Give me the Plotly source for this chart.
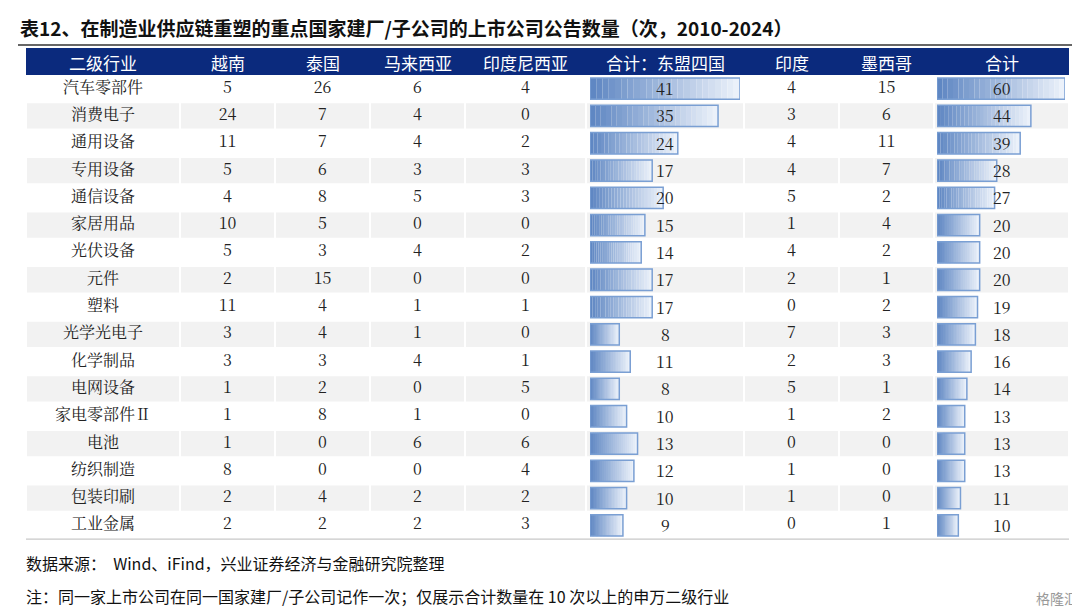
import plotly.graph_objects as go

industries = ["汽车零部件","消费电子","通用设备","专用设备","通信设备","家居用品","光伏设备","元件","塑料",
              "光学光电子","化学制品","电网设备","家电零部件Ⅱ","电池","纺织制造","包装印刷","工业金属"]
vietnam   = [5,24,11,5,4,10,5,2,11,3,3,1,1,1,8,2,2]
thailand  = [26,7,7,6,8,5,3,15,4,4,3,2,8,0,0,4,2]
malaysia  = [6,4,4,3,5,0,4,0,1,1,4,0,1,6,0,2,2]
indonesia = [4,0,2,3,3,0,2,0,1,0,1,5,0,6,4,2,3]
asean     = [41,35,24,17,20,15,14,17,17,8,11,8,10,13,12,10,9]
india     = [4,3,4,4,5,1,4,2,0,7,2,5,1,0,1,1,0]
mexico    = [15,6,11,7,2,4,2,1,2,3,3,1,2,0,0,0,1]
total     = [60,44,39,28,27,20,20,20,19,18,16,14,13,13,13,11,10]
headers = ["二级行业","越南","泰国","马来西亚","印度尼西亚","合计：东盟四国","印度","墨西哥","合计"]

W, H = 1080, 609
col_edges = [18,172,267,362,457,578,736,831,926,1061]
row_top0, row_h = 67, 27.3
n = len(industries)
def rc(i): return row_top0 + row_h*(i+0.5)
FONT = "Noto Serif CJK SC, Liberation Serif, Noto Sans CJK SC"

fig = go.Figure()
shapes = []
shapes.append(dict(type="rect", xref="x", yref="y", x0=col_edges[0], x1=col_edges[-1], y0=40, y1=row_top0,
                   fillcolor="#0b2a7d", line_width=0, layer="below"))
for i in range(n):
    fill = "#ffffff" if i % 2 == 0 else "#f2f2f2"
    for c in range(9):
        shapes.append(dict(type="rect", xref="x", yref="y", x0=col_edges[c]+1, x1=col_edges[c+1]-1,
                           y0=row_top0+row_h*i+1, y1=row_top0+row_h*(i+1)-1, fillcolor=fill, line_width=0, layer="below"))
shapes.append(dict(type="line", xref="x", yref="y", x0=10, x1=1070, y0=37, y1=37, line=dict(color="#333", width=1.5)))
shapes.append(dict(type="line", xref="x", yref="y", x0=col_edges[0], x1=col_edges[-1], y0=row_top0+row_h*n,
                   y1=row_top0+row_h*n, line=dict(color="#bbbbbb", width=1)))

N = 24
def lerp(a, b, t): return tuple(int(a[k]+(b[k]-a[k])*t) for k in range(3))
c0, c1 = (95,135,195), (235,241,250)
for vals, xa in [(asean, "x2"), (total, "x3")]:
    for s in range(N):
        col = "rgb(%d,%d,%d)" % lerp(c0, c1, s/(N-1))
        fig.add_trace(go.Bar(y=list(range(n)), x=[v/N for v in vals], base=[v*s/N for v in vals],
                             orientation="h", xaxis=xa, yaxis="y2", marker=dict(color=col, line_width=0),
                             width=0.78, showlegend=False, hoverinfo="skip"))
    fig.add_trace(go.Bar(y=list(range(n)), x=vals, orientation="h", xaxis=xa, yaxis="y2",
                         marker=dict(color="rgba(0,0,0,0)", line=dict(color="#7a9fd3", width=1.5)),
                         width=0.78, showlegend=False, hoverinfo="skip"))

cols = [industries, vietnam, thailand, malaysia, indonesia, asean, india, mexico, total]
annotations = []
for c, vals in enumerate(cols):
    xc = (col_edges[c]+col_edges[c+1])/2
    if c in (5, 8):
        for i, v in enumerate(vals):
            annotations.append(dict(x=xc, y=rc(i), xref="x", yref="y", text=str(v), showarrow=False,
                                    font=dict(size=16, color="#222", family=FONT)))
    else:
        fig.add_trace(go.Scatter(x=[xc]*n, y=[rc(i) for i in range(n)], text=[str(v) for v in vals], mode="text",
                                 textfont=dict(size=16, color="#222", family=FONT),
                                 showlegend=False, hoverinfo="skip"))
    annotations.append(dict(x=xc, y=54, xref="x", yref="y", text=headers[c], showarrow=False,
                            font=dict(size=17, color="white", family="Noto Sans CJK SC")))

ann = [
    dict(x=10, y=19, text="<b>表12、在制造业供应链重塑的重点国家建厂/子公司的上市公司公告数量（次，2010-2024）</b>", size=19),
    dict(x=16, y=555, text="数据来源：  Wind、iFind，兴业证券经济与金融研究院整理", size=16),
    dict(x=16, y=588, text="注：同一家上市公司在同一国家建厂/子公司记作一次；仅展示合计数量在 10 次以上的申万二级行业", size=16),
]
annotations += [dict(x=a["x"], y=a["y"], xref="x", yref="y", text=a["text"], showarrow=False, xanchor="left",
                     font=dict(size=a["size"], color="#111", family="Noto Sans CJK SC")) for a in ann]
annotations.append(dict(x=1072, y=590, xref="x", yref="y", text="格隆汇", showarrow=False, xanchor="right",
                        font=dict(size=14, color="#999", family="Noto Sans CJK SC")))

fig.update_layout(
    width=W, height=H, margin=dict(l=0, r=0, t=0, b=0), paper_bgcolor="white", plot_bgcolor="rgba(0,0,0,0)",
    barmode="overlay", shapes=shapes, annotations=annotations,
    xaxis=dict(range=[0, W], visible=False, domain=[0, 1]),
    yaxis=dict(range=[H, 0], visible=False),
    xaxis2=dict(range=[0, 41], visible=False, domain=[582/W, 732/W], anchor="y2"),
    xaxis3=dict(range=[0, 60], visible=False, domain=[929/W, 1057/W], anchor="y2"),
    yaxis2=dict(range=[(H-row_top0)/row_h-0.5, -row_top0/row_h-0.5], visible=False, overlaying="y", anchor="x2"),
)
fig.write_html("out.html")
